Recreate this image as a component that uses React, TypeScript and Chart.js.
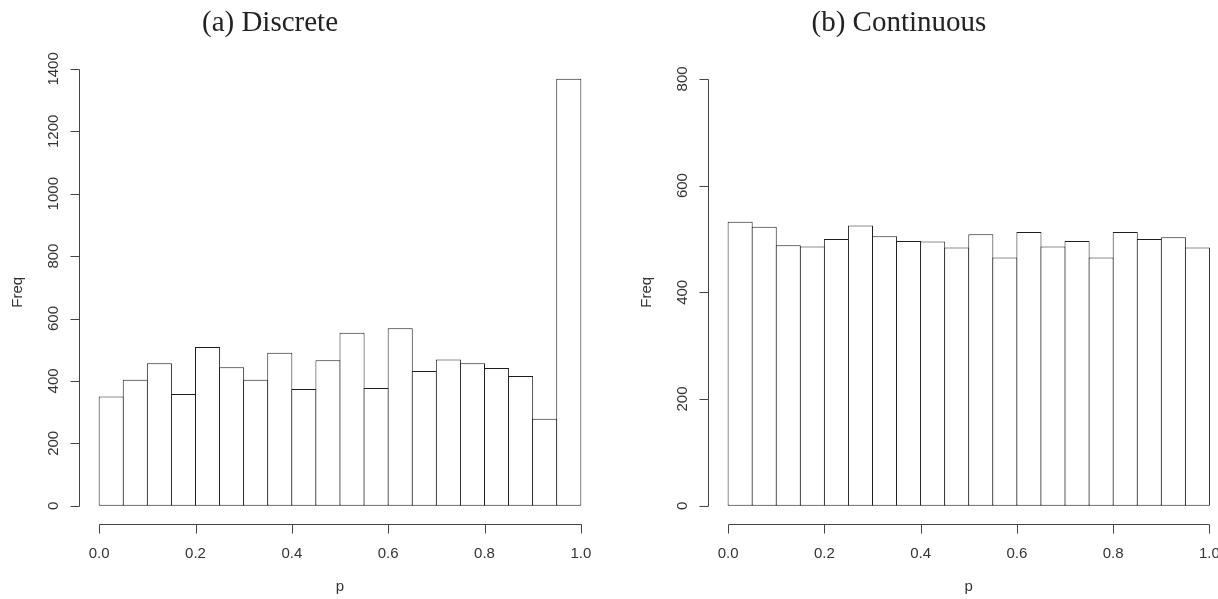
import React, { useEffect, useRef } from "react";
import { Chart, registerables } from "chart.js";

Chart.register(...registerables);

// ---- data ----
const binStarts = [0.0, 0.05, 0.1, 0.15, 0.2, 0.25, 0.3, 0.35, 0.4, 0.45, 0.5, 0.55, 0.6, 0.65, 0.7, 0.75, 0.8, 0.85, 0.9, 0.95];
const binWidth = 0.05;
const discreteCounts = [350, 404, 457, 358, 509, 444, 404, 490, 374, 466, 554, 377, 569, 432, 469, 457, 441, 416, 279, 1368];
const continuousCounts = [532, 523, 488, 486, 500, 525, 505, 496, 495, 484, 509, 465, 513, 486, 496, 465, 513, 500, 503, 484];
const xTicks = [0, 0.2, 0.4, 0.6, 0.8, 1.0];
const discreteYTicks = [0, 200, 400, 600, 800, 1000, 1200, 1400];
const continuousYTicks = [0, 200, 400, 600, 800];
const continuousYLim = [0, 800];
const discreteTitle = "(a) Discrete";
const continuousTitle = "(b) Continuous";
const xLabel = "p";
const yLabel = "Freq";

const LINE = "#1e1e1e";
const TEXT = "#333";
const SANS = '"Liberation Sans", Arial, sans-serif';
const SERIF = '"Liberation Serif", "Times New Roman", serif';

type PanelCfg = {
  title: string;
  titleX: number;
  yTicks: number[];
};

function makeRPlugin(cfg: PanelCfg) {
  return {
    id: "rAxes",
    afterDraw(chart: any) {
      const { ctx, chartArea: ca, scales } = chart;
      const xs = scales.x;
      const ys = scales.y;
      ctx.save();
      ctx.strokeStyle = "#444";
      ctx.lineWidth = 1;
      ctx.fillStyle = TEXT;

      // y axis (R style: from first to last tick)
      const ax = Math.floor(ca.left) + 0.5;
      const yt = cfg.yTicks;
      const yA = Math.round(ys.getPixelForValue(yt[0])) + 0.5;
      const yB = Math.round(ys.getPixelForValue(yt[yt.length - 1])) + 0.5;
      ctx.beginPath();
      ctx.moveTo(ax, yA);
      ctx.lineTo(ax, yB);
      yt.forEach((t) => {
        const py = Math.round(ys.getPixelForValue(t)) + 0.5;
        ctx.moveTo(ax - 9, py);
        ctx.lineTo(ax, py);
      });
      ctx.stroke();

      ctx.font = `15px ${SANS}`;
      ctx.textAlign = "center";
      ctx.textBaseline = "alphabetic";
      yt.forEach((t) => {
        const py = ys.getPixelForValue(t);
        ctx.save();
        ctx.translate(ax - 21.5, py);
        ctx.rotate(-Math.PI / 2);
        ctx.fillText(String(t), 0, 0);
        ctx.restore();
      });

      // y label
      ctx.save();
      ctx.translate(ax - 58, (ca.top + ca.bottom) / 2);
      ctx.rotate(-Math.PI / 2);
      ctx.fillText(yLabel, 0, 0);
      ctx.restore();

      // x axis
      const by = Math.round(ca.bottom) + 1.5;
      const xA = Math.round(xs.getPixelForValue(xTicks[0])) + 0.5;
      const xB = Math.round(xs.getPixelForValue(xTicks[xTicks.length - 1])) + 0.5;
      ctx.beginPath();
      ctx.moveTo(xA, by);
      ctx.lineTo(xB, by);
      xTicks.forEach((t) => {
        const px = Math.round(xs.getPixelForValue(t)) + 0.5;
        ctx.moveTo(px, by);
        ctx.lineTo(px, by + 9);
      });
      ctx.stroke();

      xTicks.forEach((t) => {
        ctx.fillText(t.toFixed(1), xs.getPixelForValue(t), by + 33);
      });

      // x label
      ctx.fillText(xLabel, (ca.left + ca.right) / 2, 591);

      // title
      ctx.font = `29px ${SERIF}`;
      ctx.fillStyle = "#222";
      ctx.fillText(cfg.title, cfg.titleX, 30.7);

      ctx.restore();
    },
  };
}

function buildChart(
  canvas: HTMLCanvasElement,
  counts: number[],
  yLim: number[],
  padding: { left: number; right: number; top: number; bottom: number },
  cfg: PanelCfg
) {
  const span = yLim[1] - yLim[0];
  return new Chart(canvas, {
    type: "bar",
    data: {
      datasets: [
        {
          data: binStarts.map((s, i) => ({ x: s + binWidth / 2, y: counts[i] })),
          backgroundColor: "#ffffff",
          borderColor: LINE,
          borderWidth: 1,
          borderSkipped: false,
          barPercentage: 1.0415,
          categoryPercentage: 1,
        } as any,
      ],
    },
    options: {
      responsive: false,
      animation: false,
      events: [],
      layout: { padding },
      plugins: {
        legend: { display: false },
        tooltip: { enabled: false },
        title: { display: false },
      },
      scales: {
        x: {
          type: "linear",
          display: false,
          offset: false,
          grid: { offset: false },
          min: -0.04,
          max: 1.04,
          afterBuildTicks: (scale: any) => {
            scale.ticks = xTicks.map((v) => ({ value: v }));
          },
        },
        y: {
          type: "linear",
          display: false,
          min: yLim[0] - 0.04 * span,
          max: yLim[1] + 0.04 * span,
        },
      },
    },
    plugins: [makeRPlugin(cfg)],
  } as any);
}

export default function App() {
  const leftRef = useRef<HTMLCanvasElement>(null);
  const rightRef = useRef<HTMLCanvasElement>(null);

  useEffect(() => {
    const discreteYLim = [0, Math.max(...discreteCounts)];
    const c1 = buildChart(
      leftRef.current!,
      discreteCounts,
      discreteYLim,
      { left: 79.9, right: 8.9, top: 61.8, bottom: 76.2 },
      { title: discreteTitle, titleX: 270, yTicks: discreteYTicks }
    );
    const c2 = buildChart(
      rightRef.current!,
      continuousCounts,
      continuousYLim,
      { left: 99.85, right: 31.3, top: 61.8, bottom: 76.2 },
      { title: continuousTitle, titleX: 289.9, yTicks: continuousYTicks }
    );
    return () => {
      c1.destroy();
      c2.destroy();
    };
  }, []);

  return (
    <div
      style={{
        position: "fixed",
        left: 0,
        top: 0,
        width: 1218,
        height: 599,
        overflow: "hidden",
        background: "#fff",
      }}
    >
      <div style={{ position: "absolute", left: 0, top: 0, width: 609, height: 599 }}>
        <canvas ref={leftRef} width={609} height={599} style={{ display: "block" }} />
      </div>
      <div style={{ position: "absolute", left: 609, top: 0, width: 651, height: 599 }}>
        <canvas ref={rightRef} width={651} height={599} style={{ display: "block" }} />
      </div>
    </div>
  );
}
